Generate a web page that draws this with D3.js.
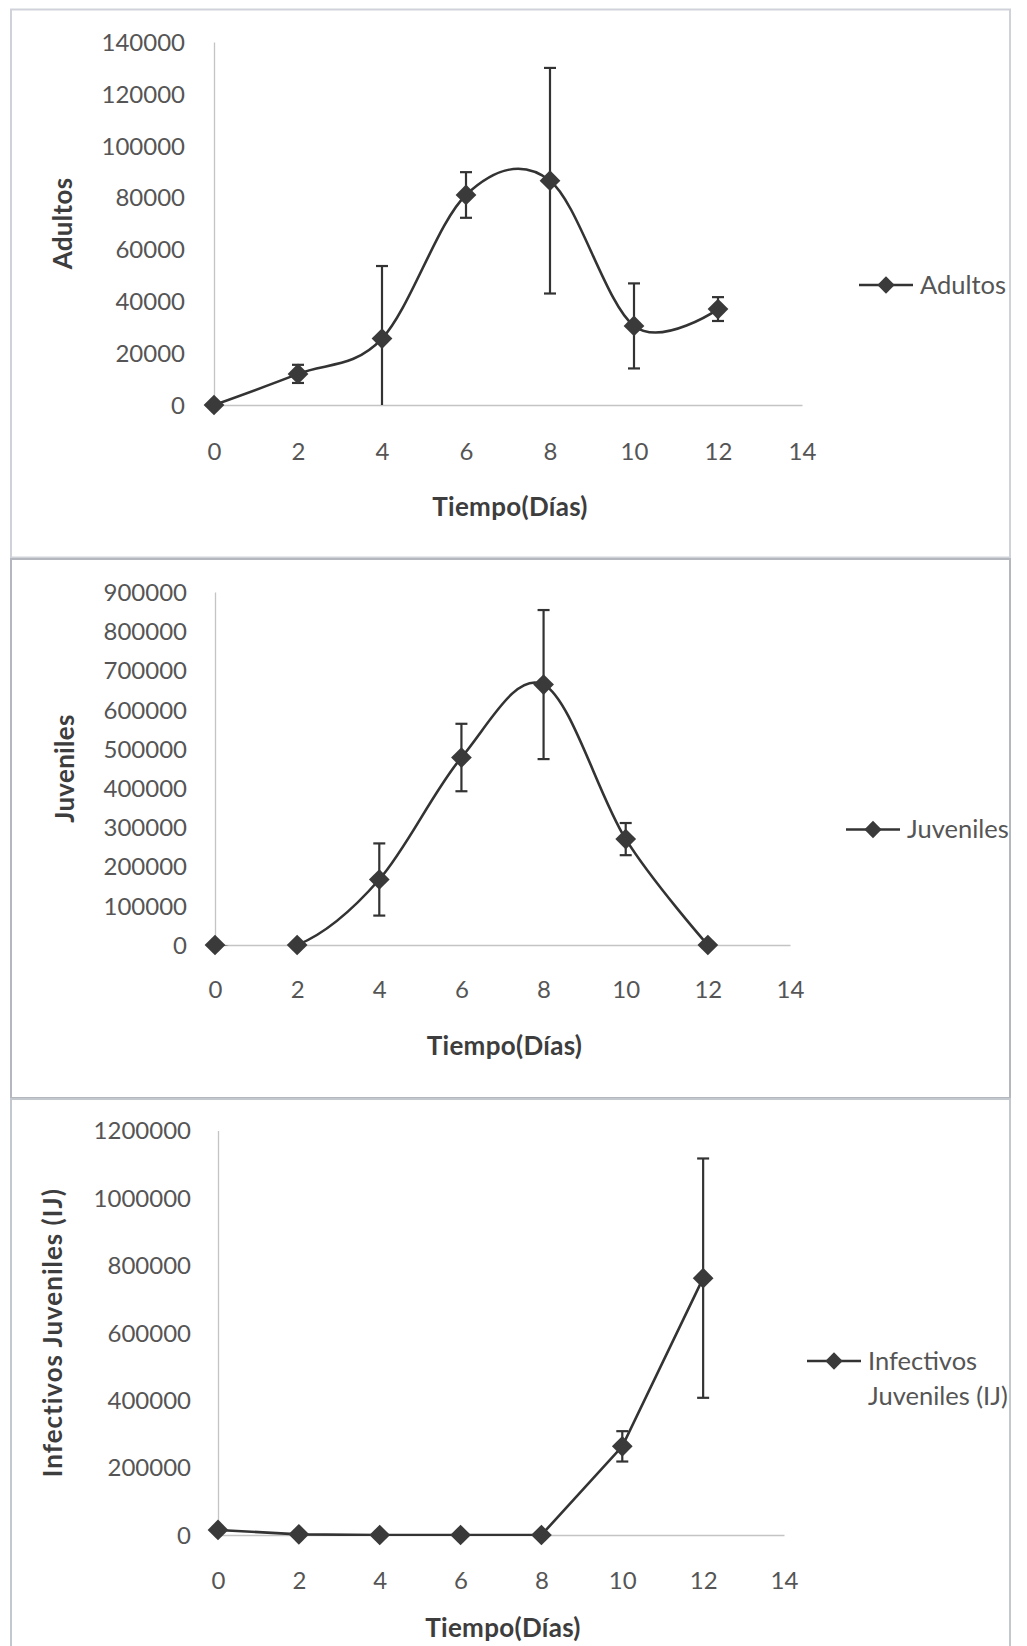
<!DOCTYPE html>
<html lang="es">
<head>
  <meta charset="UTF-8">
  <title>Adultos, Juveniles e Infectivos Juveniles</title>
  <script src="https://d3js.org/d3.v7.min.js"></script>
  <style>
    body {
      margin: 0;
      background: #fff;
      font-family: Lato, "Open Sans", sans-serif;
    }
    .tick text {
      fill: #555;
      font-size: 24px;
      font-family: Lato, "Open Sans", sans-serif;
    }
    .domain {
      stroke: #c4c4c4;
      stroke-width: 1.3;
    }
    .axis-title {
      fill: #3d3d3d;
      font-size: 26px;
      font-weight: bold;
      letter-spacing: 0.3px;
    }
    .legend-text {
      fill: #555;
      font-size: 25.5px;
    }
  </style>
</head>
<body>
  <div id="chart"></div>

  <script>
    // datos
    const days = [0, 2, 4, 6, 8, 10, 12];
    const xTicks = [0, 2, 4, 6, 8, 10, 12, 14];

    const adultos    = [0, 12000, 25600, 81000, 86500, 30500, 37000];
    const adultosErr = [0, 3500, 28000, 8800, 43500, 16400, 4600];
    const adultosTicks = [0, 20000, 40000, 60000, 80000, 100000, 120000, 140000];

    const juveniles    = [0, 0, 167000, 478000, 664000, 270000, 0];
    const juvenilesErr = [0, 0, 92000, 86000, 190000, 41000, 0];
    const juvenilesTicks = [0, 100000, 200000, 300000, 400000, 500000, 600000, 700000, 800000, 900000];

    const infectivos    = [15000, 2000, 0, 0, 0, 263000, 762000];
    const infectivosErr = [0, 0, 0, 0, 0, 45000, 355000];
    const infectivosTicks = [0, 200000, 400000, 600000, 800000, 1000000, 1200000];

    const width = 1027, height = 1646;
    const svg = d3.select("#chart").append("svg")
      .attr("width", width)
      .attr("height", height);

    // marcos de cada grafico
    const frames = [
      { y0: 9.5, y1: 557.5, stroke: "#cfd3d9" },
      { y0: 559, y1: 1098, stroke: "#b4b7bd" },
      { y0: 1099, y1: 1670, stroke: "#c3c7ce" }
    ];
    svg.selectAll("rect.frame")
      .data(frames)
      .join("rect")
      .attr("class", "frame")
      .attr("x", 11)
      .attr("y", d => d.y0)
      .attr("width", 999)
      .attr("height", d => d.y1 - d.y0)
      .attr("fill", "none")
      .attr("stroke", d => d.stroke)
      .attr("stroke-width", 2);

    const panels = [
      {
        id: "a", values: adultos, errors: adultosErr, yTicks: adultosTicks,
        x0: 214, x1: 802, yTop: 42, yBottom: 405,
        yTitle: "Adultos", yTitleX: 63, yTitleSpacing: 0.3,
        xTitleY: 507, xLabelOffset: 47, yPad: 29,
        smooth: true,
        legend: { x: 859, y: 285, lines: ["Adultos"] }
      },
      {
        id: "j", values: juveniles, errors: juvenilesErr, yTicks: juvenilesTicks,
        x0: 215, x1: 790, yTop: 592, yBottom: 945,
        yTitle: "Juveniles", yTitleX: 65, yTitleSpacing: 0.3,
        xTitleY: 1046, xLabelOffset: 45, yPad: 28,
        smooth: true,
        legend: { x: 846, y: 829.5, lines: ["Juveniles"] }
      },
      {
        id: "ij", values: infectivos, errors: infectivosErr, yTicks: infectivosTicks,
        x0: 218, x1: 784, yTop: 1130.5, yBottom: 1535,
        yTitle: "Infectivos Juveniles (IJ)", yTitleX: 53, yTitleSpacing: 1,
        xTitleY: 1628, xLabelOffset: 46, yPad: 27,
        smooth: false,
        legend: { x: 807, y: 1361, lines: ["Infectivos", "Juveniles (IJ)"] }
      }
    ];

    const diamond = d3.symbol(d3.symbolSquare, 215);

    panels.forEach(p => drawPanel(p));

    function drawPanel(p) {
      const yMax = p.yTicks[p.yTicks.length - 1];
      const x = d3.scaleLinear().domain([0, 14]).range([p.x0, p.x1]);
      const y = d3.scaleLinear().domain([0, yMax]).range([p.yBottom, p.yTop]);

      const g = svg.append("g");

      // eje x
      const gx = g.append("g")
        .attr("transform", `translate(0,${p.yBottom})`)
        .call(d3.axisBottom(x).tickValues(xTicks).tickSize(0).tickSizeOuter(0));
      gx.selectAll(".tick text")
        .attr("y", p.xLabelOffset)
        .attr("dy", "0.35em");

      // eje y
      const gy = g.append("g")
        .attr("transform", `translate(${p.x0},0)`)
        .call(d3.axisLeft(y).tickValues(p.yTicks).tickSize(0).tickSizeOuter(0)
          .tickPadding(p.yPad).tickFormat(d3.format("d")));
      gy.selectAll(".tick text").attr("dy", "0.35em");

      // titulos
      g.append("text")
        .attr("class", "axis-title")
        .attr("x", (p.x0 + p.x1) / 2 + 2)
        .attr("y", p.xTitleY)
        .attr("dy", "0.35em")
        .attr("text-anchor", "middle")
        .text("Tiempo(Días)");

      g.append("text")
        .attr("class", "axis-title")
        .attr("transform", `translate(${p.yTitleX},${(p.yTop + p.yBottom) / 2}) rotate(-90)`)
        .attr("dy", "0.35em")
        .attr("text-anchor", "middle")
        .style("letter-spacing", p.yTitleSpacing + "px")
        .text(p.yTitle);

      const pts = days.map((d, i) => ({ day: d, v: p.values[i], e: p.errors[i] }));

      // recorte para la linea suavizada
      g.append("clipPath").attr("id", "clip-" + p.id)
        .append("rect")
        .attr("x", 0).attr("y", p.yTop - 20)
        .attr("width", width)
        .attr("height", p.yBottom - p.yTop + 21);

      const line = d3.line()
        .x(d => x(d.day))
        .y(d => y(d.v))
        .curve(p.smooth ? d3.curveCardinal.tension(0) : d3.curveLinear);

      g.append("path")
        .datum(pts)
        .attr("clip-path", `url(#clip-${p.id})`)
        .attr("fill", "none")
        .attr("stroke", "#333")
        .attr("stroke-width", 2.6)
        .attr("d", line);

      // barras de error
      const eb = g.append("g")
        .attr("stroke", "#333")
        .attr("stroke-width", 2.2)
        .selectAll("g")
        .data(pts.filter(d => d.e > 0))
        .join("g");
      eb.append("line")
        .attr("x1", d => x(d.day)).attr("x2", d => x(d.day))
        .attr("y1", d => y(d.v + d.e))
        .attr("y2", d => y(Math.max(0, d.v - d.e)));
      eb.append("line")
        .attr("x1", d => x(d.day) - 6).attr("x2", d => x(d.day) + 6)
        .attr("y1", d => y(d.v + d.e)).attr("y2", d => y(d.v + d.e));
      eb.filter(d => d.v - d.e > 0).append("line")
        .attr("x1", d => x(d.day) - 6).attr("x2", d => x(d.day) + 6)
        .attr("y1", d => y(d.v - d.e)).attr("y2", d => y(d.v - d.e));

      // marcadores
      g.selectAll("path.marker")
        .data(pts)
        .join("path")
        .attr("class", "marker")
        .attr("d", diamond)
        .attr("fill", "#3a3a3a")
        .attr("transform", d => `translate(${x(d.day)},${y(d.v)}) rotate(45)`);

      // leyenda
      const lg = g.append("g").attr("transform", `translate(${p.legend.x},${p.legend.y})`);
      lg.append("line")
        .attr("x1", 0).attr("x2", 54)
        .attr("stroke", "#333").attr("stroke-width", 2.6);
      lg.append("path")
        .attr("d", d3.symbol(d3.symbolSquare, 150))
        .attr("fill", "#3a3a3a")
        .attr("transform", "translate(27,0) rotate(45)");
      lg.selectAll("text")
        .data(p.legend.lines)
        .join("text")
        .attr("class", "legend-text")
        .attr("x", 61)
        .attr("y", (d, i) => i * 35)
        .attr("dy", "0.35em")
        .text(d => d);
    }
  </script>
</body>
</html>
